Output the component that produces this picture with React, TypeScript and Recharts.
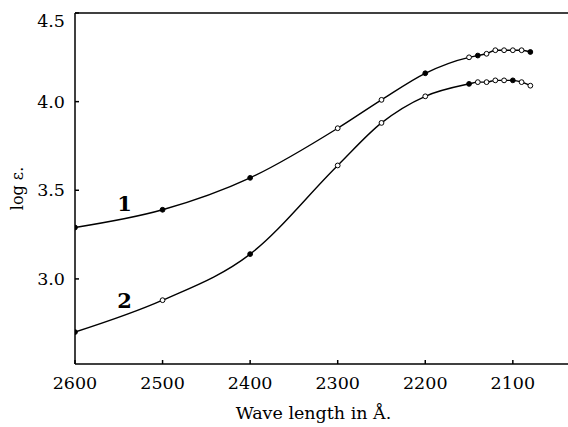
import React from 'react';
import { LineChart, Line, XAxis, YAxis, ReferenceLine } from 'recharts';

const wavelengths = [2600, 2500, 2400, 2300, 2250, 2200, 2150, 2140, 2130, 2120, 2110, 2100, 2090, 2080];
const curve1 = [3.29, 3.39, 3.57, 3.85, 4.01, 4.16, 4.25, 4.26, 4.27, 4.29, 4.29, 4.29, 4.29, 4.28];
const curve2 = [2.7, 2.88, 3.14, 3.64, 3.88, 4.03, 4.1, 4.11, 4.11, 4.12, 4.12, 4.12, 4.11, 4.09];
const filled1 = [true, true, true, false, false, true, false, true, false, false, false, false, false, true];
const filled2 = [true, false, true, false, false, false, true, false, false, false, false, true, false, false];
const xTicks = [2600, 2500, 2400, 2300, 2200, 2100];
const yTicks = [3.0, 3.5, 4.0, 4.5];
const curveNames = ['1', '2'];
const xTitle = 'Wave length in Å.';
const yTitle = 'log ε.';

const data = wavelengths.map((w, i) => ({ w, c1: curve1[i], c2: curve2[i] }));

const FONT = '"DejaVu Serif", serif';

const makeDot = (filled: boolean[]) => (props: any) => {
  const { cx, cy, index } = props;
  if (cx == null || cy == null) return <g key={`d-${index}`} />;
  return (
    <circle
      key={`d-${index}`}
      cx={cx}
      cy={cy}
      r={2.4}
      fill={filled[index] ? '#000' : '#fff'}
      stroke="#000"
      strokeWidth={1}
    />
  );
};

const makeLabel = (name: string, dx: number, dy: number) => (props: any) => {
  const { x, y, index } = props;
  if (index !== 1) return <g key={`l-${index}`} />;
  return (
    <text
      key={`l-${index}`}
      x={x + dx}
      y={y + dy}
      textAnchor="middle"
      dominantBaseline="central"
      fontFamily={FONT}
      fontWeight="bold"
      fontSize={21}
      fill="#000"
    >
      {name}
    </text>
  );
};

const YTick = (props: any) => {
  const { x, y, payload } = props;
  const shift = payload.value === 4.5 ? 8 : 0;
  return (
    <text
      x={x}
      y={y + shift}
      textAnchor="end"
      dominantBaseline="central"
      fontFamily={FONT}
      fontSize={17.5}
      fill="#000"
    >
      {Number(payload.value).toFixed(1)}
    </text>
  );
};

export default function App() {
  return (
    <div style={{ position: 'absolute', left: 0, top: 0, background: '#fff' }}>
      <LineChart width={568} height={427} data={data} margin={{ top: 13, right: 0, bottom: 0, left: 0 }}>
        <XAxis
          dataKey="w"
          type="number"
          domain={[2037, 2600]}
          reversed
          ticks={xTicks}
          allowDataOverflow
          height={63}
          stroke="#000"
          strokeWidth={1.5}
          tickSize={-4}
          tickMargin={17}
          tick={{ fill: '#000', fontFamily: FONT, fontSize: 17.5 }}
          label={{
            content: (p: any) => {
              const vb = p.viewBox;
              return (
                <text
                  x={vb.x + vb.width / 2 - 8}
                  y={vb.y + 49}
                  textAnchor="middle"
                  dominantBaseline="central"
                  fontFamily={FONT}
                  fontSize={17.5}
                  fill="#000"
                >
                  {xTitle}
                </text>
              );
            },
          }}
        />
        <YAxis
          type="number"
          domain={[2.52, 4.5]}
          ticks={yTicks}
          allowDataOverflow
          width={75}
          stroke="#000"
          strokeWidth={1.5}
          tickSize={-4}
          tickMargin={14}
          tick={<YTick />}
          label={{
            content: (p: any) => {
              const vb = p.viewBox;
              const cx = vb.x + 17;
              const cy = vb.y + vb.height / 2;
              return (
                <text
                  x={cx}
                  y={cy}
                  transform={`rotate(-90 ${cx} ${cy})`}
                  textAnchor="middle"
                  dominantBaseline="central"
                  fontFamily={FONT}
                  fontSize={16}
                  fill="#000"
                >
                  {yTitle}
                </text>
              );
            },
          }}
        />
        <ReferenceLine y={4.5} stroke="#000" strokeWidth={1.5} />
        <Line
          dataKey="c1"
          type="monotone"
          stroke="#000"
          strokeWidth={1.4}
          dot={makeDot(filled1)}
          activeDot={false}
          label={makeLabel(curveNames[0], -38, -6)}
          isAnimationActive={false}
        />
        <Line
          dataKey="c2"
          type="monotone"
          stroke="#000"
          strokeWidth={1.4}
          dot={makeDot(filled2)}
          activeDot={false}
          label={makeLabel(curveNames[1], -38, 0)}
          isAnimationActive={false}
        />
      </LineChart>
    </div>
  );
}
